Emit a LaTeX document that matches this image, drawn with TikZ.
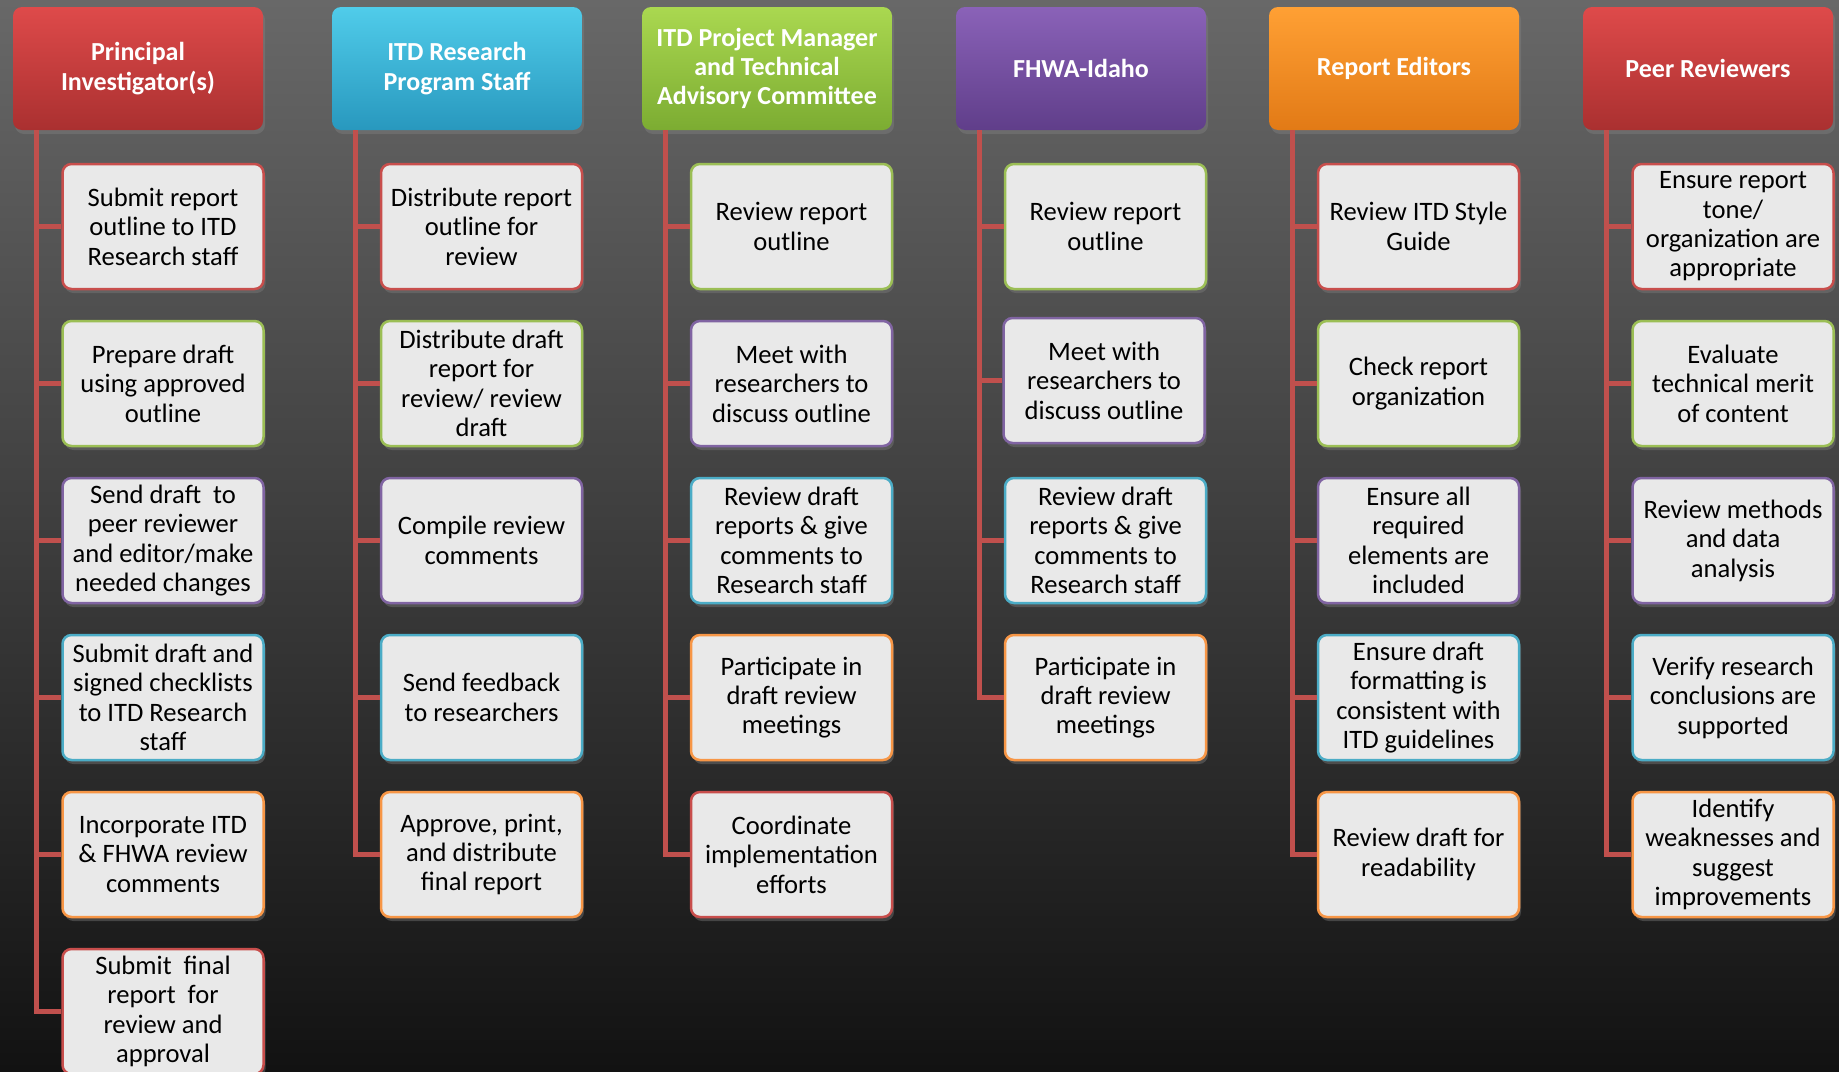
\documentclass[tikz,border=0pt]{standalone}
\usepackage{fontspec}
\setmainfont{Carlito}
\usetikzlibrary{shadows}

\newlength{\du}
\setlength{\du}{0.5pt}

\definecolor{linered}{RGB}{192,80,77}
\definecolor{boxfill}{RGB}{233,233,233}
\definecolor{edgered}{RGB}{200,78,76}
\definecolor{edgegreen}{RGB}{155,190,85}
\definecolor{edgepurple}{RGB}{128,100,162}
\definecolor{edgecyan}{RGB}{75,172,198}
\definecolor{edgeorange}{RGB}{247,150,70}
\definecolor{bgtop}{RGB}{104,104,104}
\definecolor{bgmid}{RGB}{58,58,58}
\definecolor{bgbot}{RGB}{18,18,18}

\tikzset{
  head/.style={rectangle, rounded corners=9\du, minimum width=250\du,
    minimum height=123\du, inner sep=0pt, align=center, text=white,
    font=\fontsize{13pt}{14.7pt}\selectfont\bfseries,
    drop shadow={opacity=0.45, shadow xshift=2\du, shadow yshift=-4\du}},
  headred/.style={head, top color={rgb,255:red,222;green,74;blue,74}, bottom color={rgb,255:red,170;green,48;blue,48}},
  headcyan/.style={head, top color={rgb,255:red,80;green,204;blue,234}, bottom color={rgb,255:red,40;green,152;blue,190}},
  headgreen/.style={head, top color={rgb,255:red,170;green,216;blue,80}, bottom color={rgb,255:red,124;green,172;blue,50}},
  headpurple/.style={head, top color={rgb,255:red,138;green,98;blue,184}, bottom color={rgb,255:red,96;green,62;blue,138}},
  headorange/.style={head, top color={rgb,255:red,255;green,160;blue,52}, bottom color={rgb,255:red,226;green,122;blue,22}},
  task/.style={rectangle, rounded corners=9\du, draw, line width=2.5\du,
    fill=boxfill, minimum width=201\du, minimum height=125\du,
    inner sep=0pt, align=center, text=black,
    font=\fontsize{13.3pt}{14.7pt}\selectfont,
    drop shadow={opacity=0.4, shadow xshift=2\du, shadow yshift=-4\du}},
  trunk/.style={draw=linered, line width=5\du},
}

\begin{document}
\begin{tikzpicture}[x=\du,y=-\du]
\clip (0,0) rectangle (1839,1071);
\shade[top color=bgtop, middle color=bgmid, bottom color=bgbot] (0,0) rectangle (1839,1071);

% headers
\node[headred]    (pi)   at (138,68.5)  {Principal\\Investigator(s)};
\node[headcyan]   (itd)  at (457,68.5)  {ITD Research\\Program Staff};
\node[headgreen]  (pm)   at (767,68.5)  {ITD Project Manager\\and Technical\\Advisory Committee};
\node[headpurple] (fhwa) at (1081,68.5) {FHWA-Idaho};
\node[headorange] (ed)   at (1394,68.5) {Report Editors};
\node[headred]    (peer) at (1708,68.5) {Peer Reviewers};

% principal investigator
\node[task, draw=edgered]    (pi1) at (163,226.5)  {Submit report\\outline to ITD\\Research staff};
\node[task, draw=edgegreen]  (pi2) at (163,383.5)  {Prepare draft\\using approved\\outline};
\node[task, draw=edgepurple] (pi3) at (163,540.5)  {Send draft~ to\\peer reviewer\\and editor/make\\needed changes};
\node[task, draw=edgecyan]   (pi4) at (163,697.5)  {Submit draft and\\signed checklists\\to ITD Research\\staff};
\node[task, draw=edgeorange] (pi5) at (163,854.5)  {Incorporate ITD\\\& FHWA review\\comments};
\node[task, draw=edgered]    (pi6) at (163,1011.5) {Submit~ final\\report~ for\\review and\\approval};

% research program staff
\node[task, draw=edgered]    (itd1) at (481.5,226.5) {Distribute report\\outline for\\review};
\node[task, draw=edgegreen]  (itd2) at (481.5,383.5) {Distribute draft\\report for\\review/ review\\draft};
\node[task, draw=edgepurple] (itd3) at (481.5,540.5) {Compile review\\comments};
\node[task, draw=edgecyan]   (itd4) at (481.5,697.5) {Send feedback\\to researchers};
\node[task, draw=edgeorange] (itd5) at (481.5,854.5) {Approve, print,\\and distribute\\final report};

% project manager and committee
\node[task, draw=edgegreen]  (pm1) at (791.5,226.5) {Review report\\outline};
\node[task, draw=edgepurple] (pm2) at (791.5,383.5) {Meet with\\researchers to\\discuss outline};
\node[task, draw=edgecyan]   (pm3) at (791.5,540.5) {Review draft\\reports \& give\\comments to\\Research staff};
\node[task, draw=edgeorange] (pm4) at (791.5,697.5) {Participate in\\draft review\\meetings};
\node[task, draw=edgered]    (pm5) at (791.5,854.5) {Coordinate\\implementation\\efforts};

% fhwa
\node[task, draw=edgegreen]  (fhwa1) at (1105.5,226.5) {Review report\\outline};
\node[task, draw=edgepurple] (fhwa2) at (1104,380.5)   {Meet with\\researchers to\\discuss outline};
\node[task, draw=edgecyan]   (fhwa3) at (1105.5,540.5) {Review draft\\reports \& give\\comments to\\Research staff};
\node[task, draw=edgeorange] (fhwa4) at (1105.5,697.5) {Participate in\\draft review\\meetings};

% editors
\node[task, draw=edgered]    (ed1) at (1418.5,226.5) {Review ITD Style\\Guide};
\node[task, draw=edgegreen]  (ed2) at (1418.5,383.5) {Check report\\organization};
\node[task, draw=edgepurple] (ed3) at (1418.5,540.5) {Ensure all\\required\\elements are\\included};
\node[task, draw=edgecyan]   (ed4) at (1418.5,697.5) {Ensure draft\\formatting is\\consistent with\\ITD guidelines};
\node[task, draw=edgeorange] (ed5) at (1418.5,854.5) {Review draft for\\readability};

% peer reviewers
\node[task, draw=edgered]    (peer1) at (1733,226.5) {Ensure report\\tone/\\organization are\\appropriate};
\node[task, draw=edgegreen]  (peer2) at (1733,383.5) {Evaluate\\technical merit\\of content};
\node[task, draw=edgepurple] (peer3) at (1733,540.5) {Review methods\\and data\\analysis};
\node[task, draw=edgecyan]   (peer4) at (1733,697.5) {Verify research\\conclusions are\\supported};
\node[task, draw=edgeorange] (peer5) at (1733,854.5) {Identify\\weaknesses and\\suggest\\improvements};

% connectors
\draw[trunk] ([xshift=24\du]pi.south west) |- (pi1.west);
\draw[trunk] ([xshift=24\du]pi.south west) |- (pi2.west);
\draw[trunk] ([xshift=24\du]pi.south west) |- (pi3.west);
\draw[trunk] ([xshift=24\du]pi.south west) |- (pi4.west);
\draw[trunk] ([xshift=24\du]pi.south west) |- (pi5.west);
\draw[trunk] ([xshift=24\du]pi.south west) |- (pi6.west);
\draw[trunk] ([xshift=24\du]itd.south west) |- (itd1.west);
\draw[trunk] ([xshift=24\du]itd.south west) |- (itd2.west);
\draw[trunk] ([xshift=24\du]itd.south west) |- (itd3.west);
\draw[trunk] ([xshift=24\du]itd.south west) |- (itd4.west);
\draw[trunk] ([xshift=24\du]itd.south west) |- (itd5.west);
\draw[trunk] ([xshift=24\du]pm.south west) |- (pm1.west);
\draw[trunk] ([xshift=24\du]pm.south west) |- (pm2.west);
\draw[trunk] ([xshift=24\du]pm.south west) |- (pm3.west);
\draw[trunk] ([xshift=24\du]pm.south west) |- (pm4.west);
\draw[trunk] ([xshift=24\du]pm.south west) |- (pm5.west);
\draw[trunk] ([xshift=24\du]fhwa.south west) |- (fhwa1.west);
\draw[trunk] ([xshift=24\du]fhwa.south west) |- (fhwa2.west);
\draw[trunk] ([xshift=24\du]fhwa.south west) |- (fhwa3.west);
\draw[trunk] ([xshift=24\du]fhwa.south west) |- (fhwa4.west);
\draw[trunk] ([xshift=24\du]ed.south west) |- (ed1.west);
\draw[trunk] ([xshift=24\du]ed.south west) |- (ed2.west);
\draw[trunk] ([xshift=24\du]ed.south west) |- (ed3.west);
\draw[trunk] ([xshift=24\du]ed.south west) |- (ed4.west);
\draw[trunk] ([xshift=24\du]ed.south west) |- (ed5.west);
\draw[trunk] ([xshift=24\du]peer.south west) |- (peer1.west);
\draw[trunk] ([xshift=24\du]peer.south west) |- (peer2.west);
\draw[trunk] ([xshift=24\du]peer.south west) |- (peer3.west);
\draw[trunk] ([xshift=24\du]peer.south west) |- (peer4.west);
\draw[trunk] ([xshift=24\du]peer.south west) |- (peer5.west);
\end{tikzpicture}
\end{document}
